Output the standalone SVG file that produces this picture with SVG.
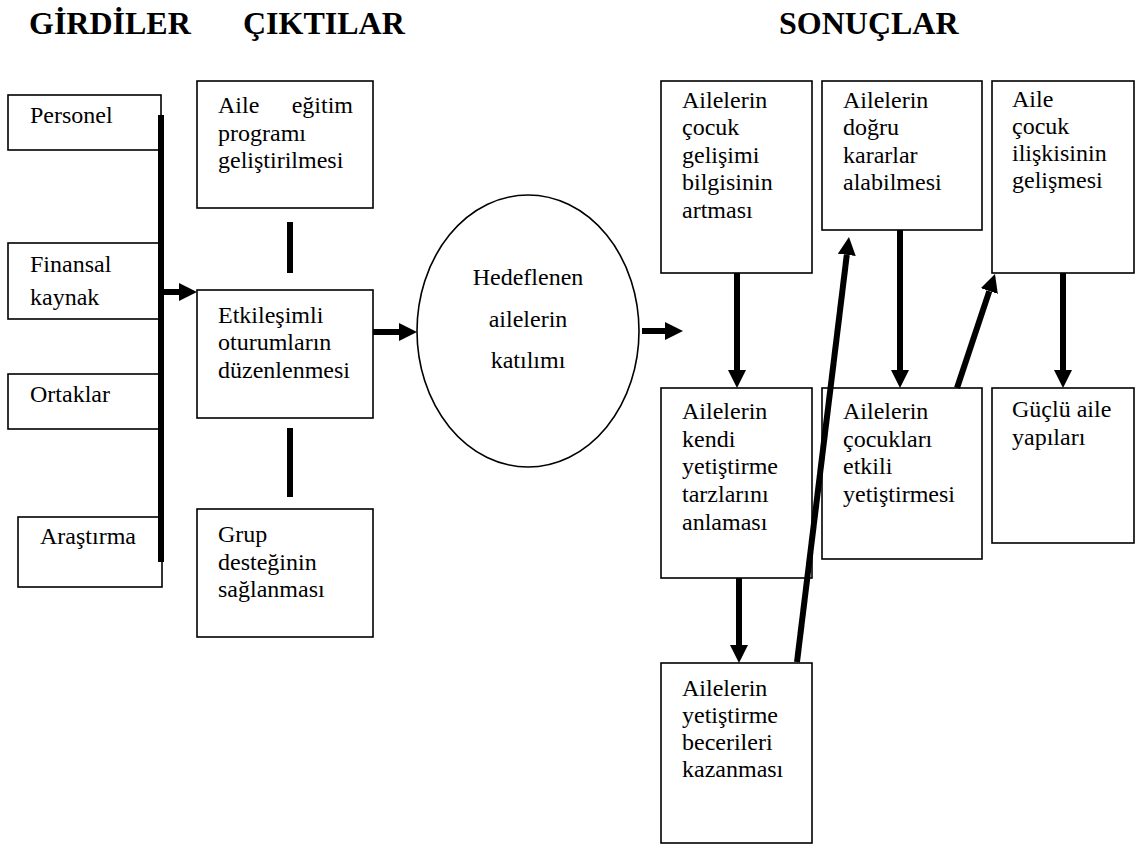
<svg xmlns="http://www.w3.org/2000/svg" width="1136" height="846" viewBox="0 0 1136 846">
  <style>
    text { font-family: "Liberation Serif", "Times New Roman", serif; font-size: 24px; fill: #000; }
    .title { font-size: 32px; font-weight: bold; }
    .box { fill: #fff; stroke: #000; stroke-width: 1.6; }
    .link { stroke: #000; stroke-width: 6; fill: none; }
    .arrow { stroke: #000; stroke-width: 6; fill: none; marker-end: url(#head); }
    .mid { text-anchor: middle; }
  </style>
  <defs>
    <marker id="head" markerUnits="userSpaceOnUse" markerWidth="18" markerHeight="18" refX="0" refY="9" orient="auto">
      <path d="M0,0 L18,9 L0,18 Z" fill="#000"/>
    </marker>
  </defs>

  <rect width="1136" height="846" fill="#fff"/>

  <!-- column headings -->
  <g id="headings">
    <text class="title" x="29" y="34">GİRDİLER</text>
    <text class="title" x="243" y="34">ÇIKTILAR</text>
    <text class="title" x="779" y="34">SONUÇLAR</text>
  </g>

  <!-- inputs -->
  <g id="personel">
    <rect class="box" x="8" y="95" width="153" height="55"/>
    <text x="30" y="123">Personel</text>
  </g>
  <g id="finansal">
    <rect class="box" x="8" y="243" width="153" height="76"/>
    <text x="30" y="272">Finansal</text>
    <text x="30" y="305">kaynak</text>
  </g>
  <g id="ortaklar">
    <rect class="box" x="8" y="374" width="153" height="55"/>
    <text x="30" y="402">Ortaklar</text>
  </g>
  <g id="arastirma">
    <rect class="box" x="18" y="517" width="144" height="70"/>
    <text x="40" y="544">Araştırma</text>
  </g>

  <!-- outputs -->
  <g id="aile-egitim">
    <rect class="box" x="197" y="81" width="176" height="127"/>
    <text x="218" y="113">Aile</text>
    <text x="353" y="113" text-anchor="end">eğitim</text>
    <text x="218" y="141">programı</text>
    <text x="218" y="168">geliştirilmesi</text>
  </g>
  <g id="etkilesimli">
    <rect class="box" x="197" y="290" width="176" height="128"/>
    <text x="218" y="323">Etkileşimli</text>
    <text x="218" y="350">oturumların</text>
    <text x="218" y="378">düzenlenmesi</text>
  </g>
  <g id="grup">
    <rect class="box" x="197" y="509" width="176" height="128"/>
    <text x="218" y="542">Grup</text>
    <text x="218" y="570">desteğinin</text>
    <text x="218" y="597">sağlanması</text>
  </g>

  <!-- participation -->
  <g id="katilim">
    <ellipse cx="528" cy="331" rx="111" ry="136" fill="#fff" stroke="#000" stroke-width="1.6"/>
    <text class="mid" x="528" y="285">Hedeflenen</text>
    <text class="mid" x="528" y="327">ailelerin</text>
    <text class="mid" x="528" y="368">katılımı</text>
  </g>

  <!-- outcomes -->
  <g id="gelisim-bilgisi">
    <rect class="box" x="661" y="81" width="151" height="192"/>
    <text x="682" y="108">Ailelerin</text>
    <text x="682" y="135">çocuk</text>
    <text x="682" y="163">gelişimi</text>
    <text x="682" y="190">bilgisinin</text>
    <text x="682" y="218">artması</text>
  </g>
  <g id="dogru-karar">
    <rect class="box" x="822" y="81" width="160" height="149"/>
    <text x="843" y="108">Ailelerin</text>
    <text x="843" y="135">doğru</text>
    <text x="843" y="163">kararlar</text>
    <text x="843" y="190">alabilmesi</text>
  </g>
  <g id="aile-cocuk-iliskisi">
    <rect class="box" x="992" y="81" width="142" height="192"/>
    <text x="1012" y="107">Aile</text>
    <text x="1012" y="134">çocuk</text>
    <text x="1012" y="161">ilişkisinin</text>
    <text x="1012" y="188">gelişmesi</text>
  </g>
  <g id="yetistirme-tarzi">
    <rect class="box" x="661" y="388" width="151" height="190"/>
    <text x="682" y="419">Ailelerin</text>
    <text x="682" y="447">kendi</text>
    <text x="682" y="474">yetiştirme</text>
    <text x="682" y="502">tarzlarını</text>
    <text x="682" y="530">anlaması</text>
  </g>
  <g id="etkili-yetistirme">
    <rect class="box" x="822" y="388" width="160" height="171"/>
    <text x="843" y="419">Ailelerin</text>
    <text x="843" y="447">çocukları</text>
    <text x="843" y="474">etkili</text>
    <text x="843" y="502">yetiştirmesi</text>
  </g>
  <g id="guclu-aile">
    <rect class="box" x="992" y="388" width="142" height="155"/>
    <text x="1012" y="417">Güçlü aile</text>
    <text x="1012" y="445">yapıları</text>
  </g>
  <g id="beceri">
    <rect class="box" x="661" y="663" width="151" height="180"/>
    <text x="682" y="696">Ailelerin</text>
    <text x="682" y="723">yetiştirme</text>
    <text x="682" y="750">becerileri</text>
    <text x="682" y="777">kazanması</text>
  </g>

  <!-- connectors -->
  <g id="connectors">
    <line class="link" x1="161" y1="115" x2="161" y2="562"/>
    <line class="link" x1="290" y1="222" x2="290" y2="273"/>
    <line class="link" x1="290" y1="428" x2="290" y2="497"/>
    <line class="arrow" x1="164" y1="292" x2="179" y2="292"/>
    <line class="arrow" x1="373" y1="332" x2="399" y2="332"/>
    <line class="arrow" x1="642" y1="331" x2="665" y2="331"/>
    <line class="arrow" x1="737" y1="273" x2="737" y2="370"/>
    <line class="arrow" x1="900" y1="230" x2="900" y2="370"/>
    <line class="arrow" x1="1063" y1="273" x2="1063" y2="370"/>
    <line class="arrow" x1="739" y1="578" x2="739" y2="645"/>
    <line class="arrow" x1="797" y1="662" x2="846.8" y2="254.9"/>
    <line class="arrow" x1="957" y1="388" x2="989.3" y2="291.1"/>
  </g>
</svg>
